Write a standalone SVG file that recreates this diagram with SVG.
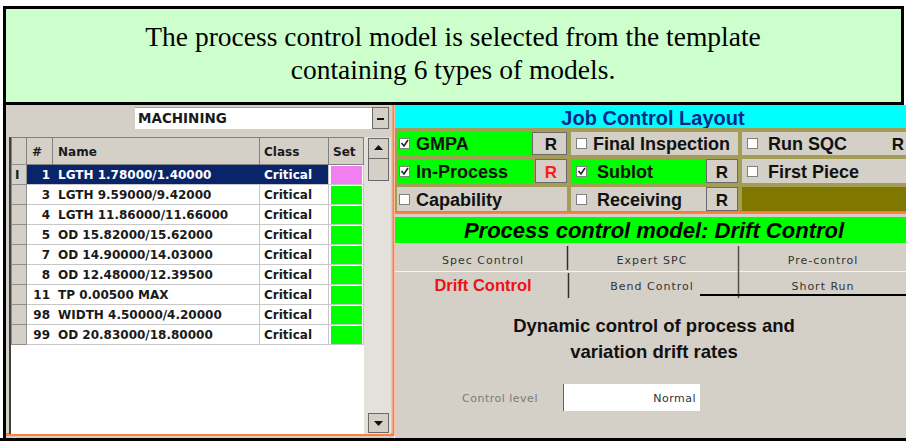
<svg xmlns="http://www.w3.org/2000/svg" width="906" height="441" viewBox="0 0 906 441">
<style>
  .cap{font-family:"Liberation Serif","Times New Roman",serif;font-size:27.5px;fill:#000;text-anchor:middle;}
  .cell{font-family:"DejaVu Sans",Verdana,sans-serif;font-weight:bold;font-size:12px;fill:#1a1a1a;}
  .num{text-anchor:end;}
  .sel{fill:#ffffff;}
  .grid{stroke:#c8c8c8;stroke-width:1;}
  .hdr{fill:#d4d0c8;stroke:#808080;stroke-width:1;}
  .set{fill:#00ff00;}
  .chk{font-family:"Liberation Sans",Arial,sans-serif;font-weight:bold;font-size:18px;fill:#111;}
  .box{fill:#ffffff;stroke:#808080;stroke-width:1;}
  .tick{fill:none;stroke:#222;stroke-width:1.6;}
  .rbtn{fill:#d4d0c8;stroke:#6a6a6a;stroke-width:1;}
  .rtxt{font-family:"Liberation Sans",Arial,sans-serif;font-weight:bold;font-size:17px;fill:#111;text-anchor:middle;}
  .tab{font-family:"DejaVu Sans",Verdana,sans-serif;font-size:11px;letter-spacing:1px;fill:#333;text-anchor:middle;}
  .desc{font-family:"Liberation Sans",Arial,sans-serif;font-weight:bold;font-size:18.5px;fill:#111;text-anchor:middle;}
</style>

<!-- caption banner -->
<g id="banner">
  <rect x="4.5" y="7.5" width="898" height="96" fill="#ccffcc" stroke="#000" stroke-width="3"/>
  <text class="cap" x="453" y="46">The process control model is selected from the template</text>
  <text class="cap" x="453" y="79">containing 6 types of models.</text>
</g>

<!-- screen frame -->
<g id="frame">
  <rect x="3" y="103" width="3" height="338" fill="#000"/>
  <rect x="0" y="438" width="906" height="3" fill="#000"/>
  <rect x="6" y="105" width="388" height="333" fill="#d4d0c8"/>
  <rect x="395" y="105" width="511" height="333" fill="#d4d0c8"/>
  <rect x="6" y="433" width="388" height="3" fill="#ff7f3f"/>
  <rect x="392.5" y="105" width="2" height="331" fill="#ff7f3f"/>
</g>

<!-- part family selector -->
<g id="machining-combo">
  <rect x="135" y="107" width="237" height="22" fill="#fff"/>
  <line x1="135" y1="107.5" x2="372" y2="107.5" stroke="#a0a0a0"/>
  <text class="cell" x="138" y="123" style="font-size:13.5px">MACHINING</text>
  <rect class="rbtn" x="372.5" y="107.5" width="16" height="21"/>
  <rect x="377" y="118" width="7" height="2" fill="#111"/>
</g>

<!-- characteristics table -->
<g id="parameter-table">
  <rect x="10" y="137" width="354" height="297" fill="#fff"/>
  <line x1="10" y1="137" x2="10" y2="434" stroke="#404040" stroke-width="2"/>
  <!-- header -->
  <rect class="hdr" x="11.5" y="137.5" width="15" height="27"/>
  <rect class="hdr" x="26.5" y="137.5" width="26" height="27"/>
  <rect class="hdr" x="52.5" y="137.5" width="207" height="27"/>
  <rect class="hdr" x="259.5" y="137.5" width="69" height="27"/>
  <rect class="hdr" x="328.5" y="137.5" width="35" height="27"/>
  <text class="cell" x="32" y="156">#</text>
  <text class="cell" x="58" y="156">Name</text>
  <text class="cell" x="264" y="156">Class</text>
  <text class="cell" x="333" y="156">Set</text>
  <!-- row headers -->
  <g fill="#d4d0c8" stroke="#909090">
    <rect x="11.5" y="164.5" width="15" height="20"/>
    <rect x="11.5" y="184.5" width="15" height="20"/>
    <rect x="11.5" y="204.5" width="15" height="20"/>
    <rect x="11.5" y="224.5" width="15" height="20"/>
    <rect x="11.5" y="244.5" width="15" height="20"/>
    <rect x="11.5" y="264.5" width="15" height="20"/>
    <rect x="11.5" y="284.5" width="15" height="20"/>
    <rect x="11.5" y="304.5" width="15" height="20"/>
    <rect x="11.5" y="324.5" width="15" height="20"/>
  </g>
  <text class="cell" x="15" y="179">I</text>
  <!-- selected row -->
  <rect x="27" y="165" width="301" height="19" fill="#0a246a"/>
  <!-- grid -->
  <g class="grid">
    <line x1="27" y1="184.5" x2="363" y2="184.5"/>
    <line x1="27" y1="204.5" x2="363" y2="204.5"/>
    <line x1="27" y1="224.5" x2="363" y2="224.5"/>
    <line x1="27" y1="244.5" x2="363" y2="244.5"/>
    <line x1="27" y1="264.5" x2="363" y2="264.5"/>
    <line x1="27" y1="284.5" x2="363" y2="284.5"/>
    <line x1="27" y1="304.5" x2="363" y2="304.5"/>
    <line x1="27" y1="324.5" x2="363" y2="324.5"/>
    <line x1="27" y1="344.5" x2="363" y2="344.5"/>
    <line x1="259.5" y1="184" x2="259.5" y2="345"/>
    <line x1="328.5" y1="165" x2="328.5" y2="345"/>
    <line x1="363.5" y1="165" x2="363.5" y2="345"/>
  </g>
  <!-- set status -->
  <rect x="331" y="166" width="31" height="18" fill="#f080f0"/>
  <rect class="set" x="331" y="186" width="31" height="18"/>
  <rect class="set" x="331" y="206" width="31" height="18"/>
  <rect class="set" x="331" y="226" width="31" height="18"/>
  <rect class="set" x="331" y="246" width="31" height="18"/>
  <rect class="set" x="331" y="266" width="31" height="18"/>
  <rect class="set" x="331" y="286" width="31" height="18"/>
  <rect class="set" x="331" y="306" width="31" height="18"/>
  <rect class="set" x="331" y="326" width="31" height="18"/>
  <!-- rows -->
  <text class="cell sel num" x="50" y="179">1</text>
  <text class="cell sel" x="58" y="179">LGTH 1.78000/1.40000</text>
  <text class="cell sel" x="264" y="179">Critical</text>
  <text class="cell num" x="50" y="199">3</text>
  <text class="cell" x="58" y="199">LGTH 9.59000/9.42000</text>
  <text class="cell" x="264" y="199">Critical</text>
  <text class="cell num" x="50" y="219">4</text>
  <text class="cell" x="58" y="219">LGTH 11.86000/11.66000</text>
  <text class="cell" x="264" y="219">Critical</text>
  <text class="cell num" x="50" y="239">5</text>
  <text class="cell" x="58" y="239">OD 15.82000/15.62000</text>
  <text class="cell" x="264" y="239">Critical</text>
  <text class="cell num" x="50" y="259">7</text>
  <text class="cell" x="58" y="259">OD 14.90000/14.03000</text>
  <text class="cell" x="264" y="259">Critical</text>
  <text class="cell num" x="50" y="279">8</text>
  <text class="cell" x="58" y="279">OD 12.48000/12.39500</text>
  <text class="cell" x="264" y="279">Critical</text>
  <text class="cell num" x="50" y="299">11</text>
  <text class="cell" x="58" y="299">TP 0.00500 MAX</text>
  <text class="cell" x="264" y="299">Critical</text>
  <text class="cell num" x="50" y="319">98</text>
  <text class="cell" x="58" y="319">WIDTH 4.50000/4.20000</text>
  <text class="cell" x="264" y="319">Critical</text>
  <text class="cell num" x="50" y="339">99</text>
  <text class="cell" x="58" y="339">OD 20.83000/18.80000</text>
  <text class="cell" x="264" y="339">Critical</text>
  <!-- scrollbar -->
  <rect x="364" y="137" width="27" height="297" fill="#e4e1da"/>
  <rect class="rbtn" x="368.5" y="138.5" width="20" height="20"/>
  <path d="M374 150 L378.5 145 L383 150 Z" fill="#111"/>
  <rect class="rbtn" x="368.5" y="158.5" width="20" height="22"/>
  <rect class="rbtn" x="368.5" y="413.5" width="20" height="19"/>
  <path d="M374 421 L378.5 426 L383 421 Z" fill="#111"/>
</g>

<!-- job control layout -->
<g id="job-control-layout">
  <rect x="395" y="105" width="511" height="23" fill="#00ffff"/>
  <text x="653" y="125" style="font-family:'Liberation Sans',Arial,sans-serif;font-weight:bold;font-size:20px;fill:#0a2a8a;text-anchor:middle">Job Control Layout</text>
  <rect x="395" y="128" width="511" height="84" fill="#a39d55"/>
  <!-- row 1 -->
  <rect x="397" y="132" width="135" height="23" fill="#00ff00"/>
  <rect class="rbtn" x="532.5" y="132.5" width="34" height="22"/>
  <text class="rtxt" x="551" y="150">R</text>
  <rect x="571" y="132" width="167" height="23" fill="#d4d0c8"/>
  <rect x="742" y="132" width="164" height="23" fill="#d4d0c8"/>
  <text class="rtxt" x="898" y="150">R</text>
  <!-- row 2 -->
  <rect x="397" y="159" width="137" height="24" fill="#00ff00"/>
  <rect class="rbtn" x="535.5" y="159.5" width="31" height="23"/>
  <text class="rtxt" x="551" y="178" style="fill:#ff1a1a">R</text>
  <rect x="571" y="159" width="135" height="24" fill="#00ff00"/>
  <rect class="rbtn" x="706.5" y="159.5" width="31" height="23"/>
  <text class="rtxt" x="722" y="178">R</text>
  <rect x="742" y="159" width="164" height="24" fill="#d4d0c8"/>
  <!-- row 3 -->
  <rect x="397" y="187" width="170" height="24" fill="#d4d0c8"/>
  <rect x="571" y="187" width="135" height="24" fill="#d4d0c8"/>
  <rect class="rbtn" x="706.5" y="187.5" width="31" height="23"/>
  <text class="rtxt" x="722" y="206">R</text>
  <rect x="742" y="187" width="164" height="24" fill="#7f7700"/>
  <!-- check boxes -->
  <rect class="box" x="399.5" y="138.5" width="10" height="10"/>
  <path class="tick" d="M401.5 143 L404 146 L408 140"/>
  <rect class="box" x="576.5" y="138.5" width="10" height="10"/>
  <rect class="box" x="747.5" y="138.5" width="10" height="10"/>
  <rect class="box" x="399.5" y="166.5" width="10" height="10"/>
  <path class="tick" d="M401.5 171 L404 174 L408 168"/>
  <rect class="box" x="576.5" y="166.5" width="10" height="10"/>
  <path class="tick" d="M578.5 171 L581 174 L585 168"/>
  <rect class="box" x="747.5" y="166.5" width="10" height="10"/>
  <rect class="box" x="399.5" y="194.5" width="10" height="10"/>
  <rect class="box" x="576.5" y="194.5" width="10" height="10"/>
  <text class="chk" x="416" y="150">GMPA</text>
  <text class="chk" x="593" y="150">Final Inspection</text>
  <text class="chk" x="768" y="150">Run SQC</text>
  <text class="chk" x="416" y="178">In-Process</text>
  <text class="chk" x="597" y="178">Sublot</text>
  <text class="chk" x="768" y="178">First Piece</text>
  <text class="chk" x="416" y="206">Capability</text>
  <text class="chk" x="597" y="206">Receiving</text>
  <rect x="395" y="212" width="511" height="2" fill="#ff7f3f"/>
</g>

<!-- selected model banner -->
<g id="process-model-bar">
  <rect x="395" y="217" width="511" height="26" fill="#00ff00"/>
  <text x="654" y="238" style="font-family:'Liberation Sans',Arial,sans-serif;font-weight:bold;font-style:italic;font-size:22px;fill:#000;text-anchor:middle">Process control model:  Drift Control</text>
</g>

<!-- model tabs -->
<g id="model-tabs">
  <line x1="395" y1="271.5" x2="906" y2="271.5" stroke="#f4f4f4"/>
  <line x1="567.5" y1="246" x2="567.5" y2="270" stroke="#303030" stroke-width="1.5"/>
  <line x1="568.5" y1="273" x2="568.5" y2="298" stroke="#303030" stroke-width="1.5"/>
  <line x1="738.5" y1="246" x2="738.5" y2="298" stroke="#505050" stroke-width="1.5"/>
  <text class="tab" x="483" y="264">Spec Control</text>
  <text class="tab" x="652" y="264">Expert SPC</text>
  <text class="tab" x="823" y="264">Pre-control</text>
  <text x="483" y="291" style="font-family:'Liberation Sans',Arial,sans-serif;font-weight:bold;font-size:16.5px;fill:#ee1111;text-anchor:middle">Drift Control</text>
  <text class="tab" x="652" y="290">Bend Control</text>
  <text class="tab" x="823" y="290">Short Run</text>
  <line x1="700" y1="295" x2="906" y2="295" stroke="#000" stroke-width="2"/>
</g>

<!-- model description -->
<g id="model-description">
  <text class="desc" x="654" y="332">Dynamic control of process and</text>
  <text class="desc" x="654" y="358">variation drift rates</text>
  <text class="tab" x="500" y="402" style="fill:#7a7a7a;letter-spacing:0.5px">Control level</text>
  <rect x="563" y="384" width="137" height="27" fill="#fff"/>
  <line x1="563.5" y1="384" x2="563.5" y2="411" stroke="#606060"/>
  <text class="tab" x="696" y="402" style="text-anchor:end;letter-spacing:0.5px">Normal</text>
</g>
</svg>
